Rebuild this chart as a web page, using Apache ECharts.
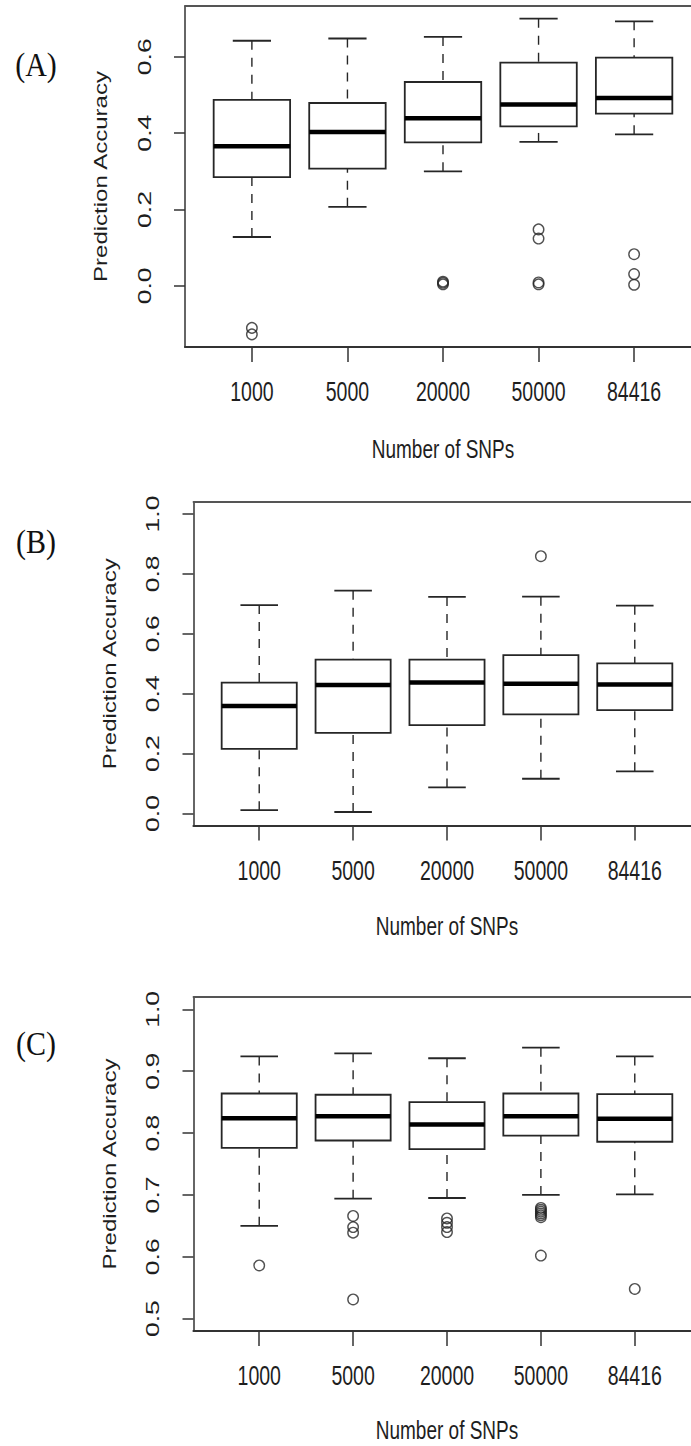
<!DOCTYPE html>
<html>
<head>
<meta charset="utf-8">
<script src="https://cdn.jsdelivr.net/npm/echarts@6/dist/echarts.min.js"></script>
<style>
  html, body { margin: 0; padding: 0; background: #fff; overflow: hidden; }
  #chart { width: 691px; height: 1446px; }
</style>
</head>
<body>
<div id="chart"></div>
<script>
// SNP panel sizes shown on every x axis
const snpCounts = ['1000', '5000', '20000', '50000', '84416'];

// Box summaries per SNP set: [lower whisker, Q1, median, Q3, upper whisker]
const statsA = [
  [0.128, 0.285, 0.366, 0.487, 0.642],
  [0.207, 0.307, 0.403, 0.479, 0.648],
  [0.300, 0.376, 0.439, 0.534, 0.652],
  [0.377, 0.418, 0.475, 0.585, 0.700],
  [0.397, 0.451, 0.492, 0.598, 0.693]
];
const outliersA = [
  [-0.110, -0.127],
  [],
  [0.004, 0.008, 0.011],
  [0.148, 0.124, 0.004, 0.009],
  [0.083, 0.031, 0.003]
];

const statsB = [
  [0.011, 0.216, 0.359, 0.437, 0.696],
  [0.005, 0.269, 0.429, 0.514, 0.744],
  [0.087, 0.295, 0.437, 0.514, 0.723],
  [0.116, 0.331, 0.433, 0.529, 0.724],
  [0.141, 0.345, 0.431, 0.501, 0.694]
];
const outliersB = [[], [], [], [0.859], []];

const statsC = [
  [0.650, 0.776, 0.824, 0.864, 0.924],
  [0.694, 0.788, 0.827, 0.862, 0.929],
  [0.695, 0.774, 0.814, 0.850, 0.921],
  [0.700, 0.796, 0.827, 0.864, 0.938],
  [0.701, 0.786, 0.823, 0.863, 0.924]
];
const outliersC = [
  [0.586],
  [0.666, 0.648, 0.639, 0.531],
  [0.662, 0.655, 0.648, 0.640],
  [0.679, 0.676, 0.673, 0.670, 0.667, 0.664, 0.602],
  [0.548]
];

// y tick values for each panel
const ticksA = [0.0, 0.2, 0.4, 0.6];
const ticksB = [0.0, 0.2, 0.4, 0.6, 0.8, 1.0];
const ticksC = [0.5, 0.6, 0.7, 0.8, 0.9, 1.0];

const panelLetters = ['(A)', '(B)', '(C)'];
const xTitle = 'Number of SNPs';
const yTitle = 'Prediction Accuracy';

// R-style 4% axis extension
function padRange(lo, hi) {
  const d = (hi - lo) * 0.04;
  return [lo - d, hi + d];
}
function dataRange(stats, outs) {
  let lo = Infinity, hi = -Infinity;
  stats.forEach(s => { lo = Math.min(lo, s[0]); hi = Math.max(hi, s[4]); });
  outs.forEach(o => o.forEach(v => { lo = Math.min(lo, v); hi = Math.max(hi, v); }));
  return [lo, hi];
}

// The plotting frames run slightly past the right edge of the page
const panels = [
  { stats: statsA, outs: outliersA, ticks: ticksA,
    ylim: padRange(...dataRange(statsA, outliersA)),
    grid: { left: 185, top: 6, right: -10, height: 341 },
    letterPos: [36, 64], titleGap: 102 },
  { stats: statsB, outs: outliersB, ticks: ticksB,
    ylim: padRange(0, 1),
    grid: { left: 193.5, top: 502, right: -9.5, height: 323.5 },
    letterPos: [36, 541], titleGap: 101 },
  { stats: statsC, outs: outliersC, ticks: ticksC,
    ylim: padRange(0.5, 1),
    grid: { left: 193.5, top: 997, right: -9.5, height: 334 },
    letterPos: [36, 1043], titleGap: 99 }
];

const ink = '#262626';

function renderBox(params, api) {
  const x = api.value(0);
  const lo = api.value(1), q1 = api.value(2), med = api.value(3), q3 = api.value(4), hi = api.value(5);
  const halfBox = api.size([0.4, 0])[0];
  const halfCap = api.size([0.2, 0])[0];
  const cx = api.coord([x, med])[0];
  const yLo = api.coord([x, lo])[1];
  const yQ1 = api.coord([x, q1])[1];
  const yMed = api.coord([x, med])[1];
  const yQ3 = api.coord([x, q3])[1];
  const yHi = api.coord([x, hi])[1];
  const dash = { stroke: ink, lineWidth: 1.4, lineDash: [9, 8] };
  const solid = { stroke: ink, lineWidth: 1.8 };
  return {
    type: 'group',
    children: [
      { type: 'line', shape: { x1: cx, y1: yHi, x2: cx, y2: yQ3 }, style: dash },
      { type: 'line', shape: { x1: cx, y1: yLo, x2: cx, y2: yQ1 }, style: dash },
      { type: 'line', shape: { x1: cx - halfCap, y1: yHi, x2: cx + halfCap, y2: yHi }, style: solid },
      { type: 'line', shape: { x1: cx - halfCap, y1: yLo, x2: cx + halfCap, y2: yLo }, style: solid },
      { type: 'rect', shape: { x: cx - halfBox, y: yQ3, width: halfBox * 2, height: yQ1 - yQ3 },
        style: { fill: '#fff', stroke: ink, lineWidth: 1.8 } },
      { type: 'line', shape: { x1: cx - halfBox, y1: yMed, x2: cx + halfBox, y2: yMed },
        style: { stroke: '#000', lineWidth: 4.5 } }
    ]
  };
}

const option = {
  animation: false,
  backgroundColor: '#fff',
  grid: [], xAxis: [], yAxis: [], series: []
};

panels.forEach((p, i) => {
  option.grid.push(Object.assign({
    show: false, outerBoundsMode: 'none', containLabel: false
  }, p.grid));
  // bottom axis with the SNP ticks
  option.xAxis.push({
    gridIndex: i, type: 'value', min: 0.3, max: 5.7, position: 'bottom',
    axisLine: { show: true, onZero: false, lineStyle: { color: '#333', width: 2.2 } },
    axisTick: { show: true, customValues: [1, 2, 3, 4, 5], length: 15, lineStyle: { color: '#333', width: 1.5 } },
    axisLabel: { show: false },
    splitLine: { show: false }
  });
  // top edge of the plot frame
  option.xAxis.push({
    gridIndex: i, type: 'value', min: 0.3, max: 5.7, position: 'top',
    axisLine: { show: true, onZero: false, lineStyle: { color: '#555', width: 1.8 } },
    axisTick: { show: false }, axisLabel: { show: false }, splitLine: { show: false }
  });
  option.yAxis.push({
    gridIndex: i, type: 'value', min: p.ylim[0], max: p.ylim[1],
    axisLine: { show: true, onZero: false, lineStyle: { color: '#333', width: 1.5 } },
    axisTick: { show: true, customValues: p.ticks, length: 11, lineStyle: { color: '#333', width: 1.5 } },
    axisLabel: { show: false },
    splitLine: { show: false }
  });
  option.series.push({
    type: 'custom', xAxisIndex: i * 2, yAxisIndex: i,
    renderItem: renderBox,
    encode: { x: 0, y: [1, 2, 3, 4, 5] },
    data: p.stats.map((s, k) => [k + 1].concat(s)),
    silent: true
  });
  const pts = [];
  p.outs.forEach((o, k) => o.forEach(v => pts.push([k + 1, v])));
  option.series.push({
    type: 'scatter', xAxisIndex: i * 2, yAxisIndex: i,
    symbol: 'circle', symbolSize: 10.5,
    itemStyle: { color: 'rgba(0,0,0,0)', borderColor: ink, borderWidth: 1.4 },
    data: pts, silent: true, z: 5
  });
});

const chart = echarts.init(document.getElementById('chart'), null, { renderer: 'svg' });
chart.setOption(option);

// Axis texts are placed from the axes' own pixel mapping and stretched vertically
const sans = "'Liberation Sans', Arial, Helvetica, sans-serif";
const serif = "'Liberation Serif', 'Times New Roman', serif";
const stretch = 1.4;
const elements = [];
function addText(text, x, y, opts) {
  elements.push({
    type: 'text', x: x, y: y, silent: true,
    rotation: opts.rotation || 0,
    scaleX: opts.scaleX || 1, scaleY: opts.scaleY || 1,
    style: {
      text: text, fill: opts.fill || '#1e1e1e',
      fontSize: opts.fontSize, fontFamily: opts.fontFamily || sans,
      align: 'center', verticalAlign: 'middle',
      textAlign: 'center', textVerticalAlign: 'middle'
    }
  });
}

panels.forEach((p, i) => {
  const gi = { xAxisIndex: i * 2, yAxisIndex: i };
  const bottom = chart.convertToPixel(gi, [0.3, p.ylim[0]]);
  const left = bottom[0];
  const baseY = bottom[1];
  snpCounts.forEach((lab, k) => {
    const px = chart.convertToPixel(gi, [k + 1, p.ylim[0]]);
    addText(lab, px[0], baseY + 45, { fontSize: 19.5, scaleY: stretch });
  });
  const mid = chart.convertToPixel(gi, [3, (p.ylim[0] + p.ylim[1]) / 2]);
  addText(xTitle, mid[0], baseY + p.titleGap, { fontSize: 19, scaleY: 1.35 });
  p.ticks.forEach(t => {
    const py = chart.convertToPixel(gi, [0.3, t]);
    addText(t.toFixed(1), left - 41, py[1], { fontSize: 19, rotation: Math.PI / 2, scaleX: stretch });
  });
  addText(yTitle, left - 84, mid[1], { fontSize: 18.5, rotation: Math.PI / 2, scaleX: 1.3 });
  addText(panelLetters[i], p.letterPos[0], p.letterPos[1], { fontSize: 30, fontFamily: serif, scaleY: 1.15, fill: '#111' });
});

chart.setOption({ graphic: { elements: elements } });
</script>
</body>
</html>
